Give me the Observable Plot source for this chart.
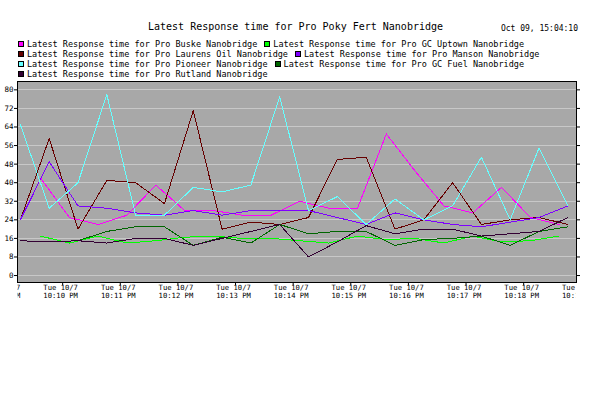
<!DOCTYPE html>
<html>
<head>
<meta charset="utf-8">
<script src="https://cdn.jsdelivr.net/npm/d3@7"></script>
<script src="https://cdn.jsdelivr.net/npm/@observablehq/plot@0.6"></script>
<style>
  html, body { margin: 0; padding: 0; background: #ffffff; }
  #chart { position: relative; width: 616px; height: 393px; background: #ffffff; font-family: "DejaVu Sans Mono", monospace; color: #000; }
  #head { position: relative; height: 80px; }
  #title { position: absolute; left: 148px; top: 22px; font-size: 10px; line-height: 10px; white-space: nowrap; }
  #stamp { position: absolute; right: 38px; top: 25px; font-size: 8px; line-height: 8px; white-space: nowrap; }
  .lrow { position: absolute; left: 18px; font-size: 8.5px; line-height: 9px; white-space: nowrap; }
  .item { display: inline-block; margin-right: 7px; }
  .sw { display: inline-block; width: 4px; height: 4px; border: 1px solid #000; margin-right: 3px; vertical-align: baseline; }
  #plot svg { display: block; }
</style>
</head>
<body>
<div id="chart">
  <div id="head">
    <div id="title"></div>
    <div id="stamp"></div>
    <div id="legend"></div>
  </div>
  <div id="plot"></div>
</div>
<script>
// ---- text ----
const titleText = "Latest Response time for Pro Poky Fert Nanobridge";
const stampText = "Oct 09, 15:04:10";

// ---- series ----
const seriesNames = [
  "Latest Response time for Pro Buske Nanobridge",
  "Latest Response time for Pro GC Uptown Nanobridge",
  "Latest Response time for Pro Laurens Oil Nanobridge",
  "Latest Response time for Pro Manson Nanobridge",
  "Latest Response time for Pro Pioneer Nanobridge",
  "Latest Response time for Pro GC Fuel Nanobridge",
  "Latest Response time for Pro Rutland Nanobridge"
];
const seriesColors = ["#ff00ff", "#00ff00", "#660000", "#7f00ff", "#66ffff", "#006600", "#330033"];
const legendRows = [[0, 1], [2, 3], [4, 5], [6]];

// ---- sample times (Tue 10/7) ----
const timesA = ["22:09:16","22:09:46","22:10:16","22:10:46","22:11:16","22:11:46","22:12:16","22:12:46","22:13:16","22:13:46",
                "22:14:16","22:14:46","22:15:16","22:15:46","22:16:16","22:16:46","22:17:16","22:17:46","22:18:16","22:18:46"];
const timesB = ["22:09:37","22:10:07","22:10:37","22:11:07","22:11:37","22:12:07","22:12:37","22:13:07","22:13:37","22:14:07",
                "22:14:37","22:15:07","22:15:37","22:16:07","22:16:37","22:17:07","22:17:37","22:18:07","22:18:37"];
const timesFuel = ["22:10:16","22:10:46","22:11:16","22:11:46","22:12:16","22:12:46","22:13:16","22:13:46",
                "22:14:16","22:14:46","22:15:16","22:15:46","22:16:16","22:16:46","22:17:16","22:17:46","22:18:16","22:18:46"];

// ---- values ----
const buske   = [42, 25, 22, 26, 39, 28, 28, 26, 26, 32, 29, 29, 61, 45, 30, 27, 38, 25, 22];
const uptown  = [17, 14, 17, 14, 15, 16.5, 17, 16, 16, 15, 14, 17, 15.5, 16, 14, 17, 14.5, 15, 17];
const laurens = [24, 59, 20, 41, 40, 31, 71, 20, 23, 22, 25, 50, 51, 20, 24, 40, 22, 24, 25, 22];
const manson  = [24, 49, 30, 29, 27, 26, 28, 26, 28, 28, 28, 25, 22, 27, 24, 22, 21, 23, 25, 30];
const pioneer = [65, 29, 40, 78, 26, 26, 38, 36, 39, 77, 28, 34, 22, 33, 24, 30, 51, 24, 55, 30];
const fuel    = [15, 19, 21, 21, 13, 16.5, 14, 22, 18, 19, 19, 13, 15.5, 16, 17, 13, 19, 21];
const rutland = [15, 14.5, 15, 14, 16, 16, 13, 16, 19, 22, 8, 14.5, 21.5, 18, 20, 20, 17, 18, 19, 25];

// ---- axes ----
const yTicks = [0, 8, 16, 24, 32, 40, 48, 56, 64, 72, 80];
const xTickTimes = ["22:09","22:10","22:11","22:12","22:13","22:14","22:15","22:16","22:17","22:18","22:19"];
const xDomain = ["22:09:13", "22:18:55"];
const yDomain = [-3.0, 83.6];

// ---- build ----
const parse = s => { const [h, m, sec = 0] = s.split(":").map(Number); return new Date(2014, 9, 7, h, m, sec); };
const seriesData = [
  [timesB, buske], [timesB, uptown], [timesA, laurens], [timesA, manson],
  [timesA, pioneer], [timesFuel, fuel], [timesA, rutland]
];
const rows = [];
seriesData.forEach(([ts, vs], i) => {
  vs.forEach((v, j) => rows.push({series: seriesNames[i], time: parse(ts[j]), value: v}));
});

document.getElementById("title").textContent = titleText;
document.getElementById("stamp").textContent = stampText;
const legend = document.getElementById("legend");
legendRows.forEach((r, k) => {
  const row = document.createElement("div");
  row.className = "lrow";
  row.style.top = (40 + 10 * k) + "px";
  r.forEach(i => {
    const it = document.createElement("span");
    it.className = "item";
    const sw = document.createElement("span");
    sw.className = "sw";
    sw.style.background = seriesColors[i];
    it.appendChild(sw);
    it.appendChild(document.createTextNode(seriesNames[i]));
    row.appendChild(it);
  });
  legend.appendChild(row);
});

const fmtDay = d3.timeFormat("%a %-m/%-d");
const fmtTime = d3.timeFormat("%-I:%M %p");
const xTicks = xTickTimes.map(parse);

const svg = Plot.plot({
  width: 616, height: 313,
  marginTop: 1, marginLeft: 17, marginRight: 40, marginBottom: 111,
  style: {fontFamily: "'DejaVu Sans Mono', monospace", fontSize: "7.5px", background: "#ffffff", color: "#000"},
  x: {type: "time", domain: xDomain.map(parse)},
  y: {domain: yDomain},
  color: {domain: seriesNames, range: seriesColors},
  marks: [
    Plot.frame({fill: "#a8a8a8", stroke: null}),
    Plot.gridY(yTicks, {stroke: "#c8c8c8", strokeOpacity: 1, shapeRendering: "crispEdges"}),
    Plot.line(rows, {x: "time", y: "value", z: "series", stroke: "series", strokeWidth: 1, shapeRendering: "crispEdges"}),
    Plot.frame({stroke: "#000", strokeWidth: 1.5, shapeRendering: "crispEdges"}),
    Plot.axisY(yTicks, {anchor: "left", tickSize: 3, tickPadding: 1, label: null}),
    Plot.axisY(yTicks, {anchor: "right", tickSize: 3, tickFormat: () => "", label: null}),
    Plot.axisX(xTicks.slice(1, -1), {anchor: "bottom", tickSize: 3, tickFormat: () => "", label: null}),
    Plot.text(xTicks, {x: d => d, frameAnchor: "bottom", lineAnchor: "top", dy: 1, dx: -2,
      text: d => fmtDay(d) + "\n" + fmtTime(d), fontSize: 7.2, lineHeight: 1.2})
  ]
});

// clip the time labels to the horizontal extent of the plot frame, as in the original
const s = d3.select(svg);
s.append("defs").append("clipPath").attr("id", "xclip")
  .attr("clipPathUnits", "userSpaceOnUse")
  .append("rect").attr("x", 19).attr("y", -20).attr("width", 558).attr("height", 360);
const groups = new Set();
s.selectAll("text").each(function () {
  if (this.textContent.indexOf("10/7") >= 0) groups.add(this.parentNode);
});
groups.forEach(g => g.setAttribute("clip-path", "url(#xclip)"));
document.getElementById("plot").appendChild(svg);
</script>
</body>
</html>
